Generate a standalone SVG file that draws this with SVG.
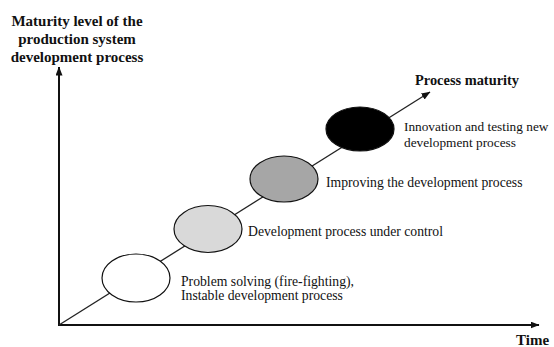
<svg xmlns="http://www.w3.org/2000/svg" width="554" height="347" viewBox="0 0 554 347">
<style>
.lbl{font-family:"Liberation Serif","Times New Roman",serif;font-size:13.7px;fill:#111}
.bold{font-family:"Liberation Serif","Times New Roman",serif;font-size:15px;font-weight:bold;fill:#111}
.node{stroke:#111;stroke-width:1.2}
.axis{stroke:#111;stroke-width:2;fill:none}
.diag{stroke:#222;stroke-width:1.3;fill:none}
</style>
<defs>
<marker id="ah" markerWidth="9" markerHeight="7" refX="8.5" refY="3.5" orient="auto" markerUnits="userSpaceOnUse">
<path d="M0,0 L9,3.5 L0,7 Z" fill="#111"/>
</marker>
</defs>
<rect width="554" height="347" fill="#fff"/>
<g id="connectors">
<line class="axis" x1="59" y1="326" x2="59" y2="67" marker-end="url(#ah)"/>
<line class="axis" x1="58" y1="325" x2="539" y2="325" marker-end="url(#ah)"/>
<line class="diag" x1="59" y1="325" x2="430" y2="92" marker-end="url(#ah)"/>
</g>
<g id="axis-y-label">
<text class="bold" text-anchor="middle" x="77" y="26">Maturity level of the</text>
<text class="bold" text-anchor="middle" x="77" y="44">production system</text>
<text class="bold" text-anchor="middle" x="77" y="62">development process</text>
</g>
<g id="axis-x-label"><text class="bold" x="516" y="345">Time</text></g>
<g id="diag-label"><text class="bold" x="415" y="85" style="font-size:14.4px">Process maturity</text></g>
<g id="node1">
<ellipse class="node" cx="136" cy="278" rx="34" ry="24" fill="#ffffff"/>
<text class="lbl" x="181" y="286">Problem solving (fire-fighting),</text>
<text class="lbl" x="181" y="300">Instable development  process</text>
</g>
<g id="node2">
<ellipse class="node" cx="208" cy="229" rx="34" ry="23.5" fill="#d9d9d9"/>
<text class="lbl" x="248" y="236">Development process under control</text>
</g>
<g id="node3">
<ellipse class="node" cx="284" cy="179" rx="34" ry="23" fill="#a6a6a6"/>
<text class="lbl" x="326" y="187">Improving the development process</text>
</g>
<g id="node4">
<ellipse class="node" cx="360" cy="129" rx="34" ry="22" fill="#000000"/>
<text class="lbl" x="404" y="131" style="font-size:13.3px">Innovation and testing new</text>
<text class="lbl" x="404" y="147" style="font-size:13.3px">development process</text>
</g>
</svg>
